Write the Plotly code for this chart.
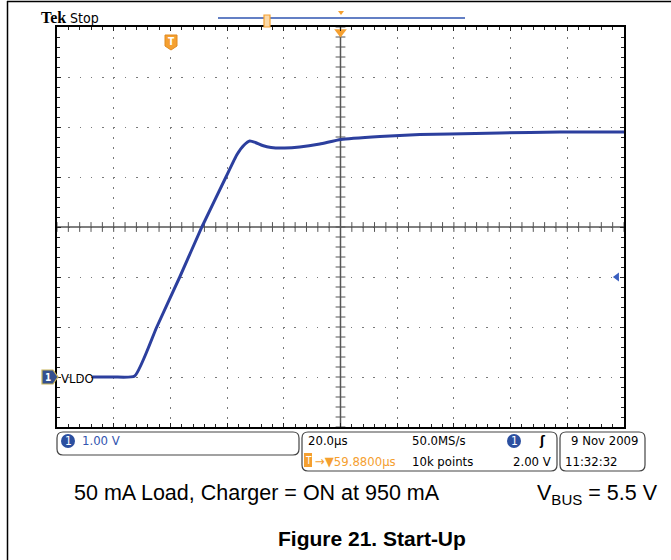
import plotly.graph_objects as go
import numpy as np

# ---------------- data ----------------
time_us = [12.5, 20.0, 27.4, 35.2, 43.3, 51.1, 59.6, 63.5, 66.0, 68.0, 70.0, 72.5,
           75.5, 80.3, 85.6, 92.7, 100.1, 113.9, 128.0, 138.6, 156.2, 177.4, 200.0]
vldo_v = [0.0, 0.0, 0.02, 1.0, 2.0, 3.0, 4.0, 4.45, 4.64, 4.72, 4.69, 4.63,
          4.59, 4.58, 4.60, 4.66, 4.75, 4.81, 4.85, 4.86, 4.88, 4.90, 4.90]
trigger_pos_us = 100.0
trigger_level_v = 2.0
x_range = [0, 200]      # 10 div x 20 us
y_range = [-1, 7]       # 8 div x 1 V
x_major, x_minor = 20, 4
y_major, y_minor = 1, 0.2
ch_label = "VLDO"
caption_left = "50 mA Load, Charger = ON at 950 mA"
caption_right = "V<sub>BUS</sub> = 5.5 V"
figure_title = "<b>Figure 21. Start-Up</b>"

# ---------------- geometry helpers ----------------
L, T, W, H = 57, 27, 567, 400
FIG_W, FIG_H = 671, 560
def PX(x): return (x - L) / W
def PY(y): return 1 - (y - T) / H

ORANGE = "#f5a030"
BLUE = "#2c3f9e"
TXTBLUE = "#3355b0"
SCOPE_FONT = "Liberation Sans Narrow, DejaVu Sans Condensed, Arial Narrow, sans-serif"
ARIAL = "Liberation Sans, Arial, sans-serif"

fig = go.Figure()

# center cross tick marks
xc = np.arange(x_range[0], x_range[1] + 1e-9, x_minor)
yc = np.arange(y_range[0], y_range[1] + 1e-9, y_minor)
yc_mid = (y_range[0] + y_range[1]) / 2
xc_mid = (x_range[0] + x_range[1]) / 2
fig.add_trace(go.Scatter(x=xc, y=[yc_mid] * len(xc), mode="markers", hoverinfo="skip",
                         marker=dict(symbol="line-ns", size=7, line=dict(width=1, color="#555555"))))
fig.add_trace(go.Scatter(x=[xc_mid] * len(yc), y=yc, mode="markers", hoverinfo="skip",
                         marker=dict(symbol="line-ew", size=7, line=dict(width=1, color="#555555"))))

# the waveform
fig.add_trace(go.Scatter(x=time_us, y=vldo_v, mode="lines",
                         line=dict(color=BLUE, width=3, shape="spline", smoothing=0.5), hoverinfo="skip"))

# trigger position marker (top) and trigger level arrow (right)
fig.add_trace(go.Scatter(x=[trigger_pos_us], y=[y_range[1] - 0.1], mode="markers", cliponaxis=False,
                         marker=dict(symbol="triangle-down", size=11, color=ORANGE), hoverinfo="skip"))
fig.add_trace(go.Scatter(x=[x_range[1] - 2.5], y=[trigger_level_v], mode="markers", cliponaxis=False,
                         marker=dict(symbol="triangle-left", size=8, color="#3a5fc0"), hoverinfo="skip"))

shapes = []
# center lines
shapes.append(dict(type="line", xref="x", yref="y", x0=xc_mid, x1=xc_mid, y0=y_range[0], y1=y_range[1],
                   line=dict(color="#555555", width=1.5), layer="between"))
shapes.append(dict(type="line", xref="x", yref="y", x0=x_range[0], x1=x_range[1], y0=yc_mid, y1=yc_mid,
                   line=dict(color="#555555", width=1.5), layer="between"))

def pshape(path_pts, close=True, **kw):
    d = "M" + " L".join(f"{PX(x)},{PY(y)}" for x, y in path_pts) + (" Z" if close else "")
    return dict(type="path", xref="paper", yref="paper", path=d, **kw)

def rrect(x0, y0, x1, y1, r):
    p = lambda x, y: f"{PX(x)},{PY(y)}"
    d = (f"M{p(x0+r,y0)} L{p(x1-r,y0)} Q{p(x1,y0)} {p(x1,y0+r)} L{p(x1,y1-r)} "
         f"Q{p(x1,y1)} {p(x1-r,y1)} L{p(x0+r,y1)} Q{p(x0,y1)} {p(x0,y1-r)} "
         f"L{p(x0,y0+r)} Q{p(x0,y0)} {p(x0+r,y0)} Z")
    return dict(type="path", xref="paper", yref="paper", path=d,
                line=dict(color="#444444", width=1.2), fillcolor="rgba(0,0,0,0)")

# page border (top and left)
shapes.append(dict(type="line", xref="paper", yref="paper", x0=PX(7), x1=PX(671), y0=PY(1.5), y1=PY(1.5),
                   line=dict(color="black", width=1.5)))
shapes.append(dict(type="line", xref="paper", yref="paper", x0=PX(7.5), x1=PX(7.5), y0=PY(1), y1=PY(560),
                   line=dict(color="black", width=1.5)))
# top record bar
shapes.append(dict(type="line", xref="paper", yref="paper", x0=PX(218), x1=PX(465), y0=PY(18), y1=PY(18),
                   line=dict(color="#2f55b0", width=1.3)))
shapes.append(dict(type="rect", xref="paper", yref="paper", x0=PX(264), x1=PX(270), y0=PY(15), y1=PY(27),
                   line=dict(color=ORANGE, width=1.2), fillcolor="#fbd9a8"))
shapes.append(pshape([(338, 11), (344, 11), (341, 15)], fillcolor=ORANGE, line=dict(width=0)))
# T marker
shapes.append(pshape([(165, 35), (177, 35), (177, 46), (171, 50), (165, 46)],
                     fillcolor=ORANGE, line=dict(color="#e08a20", width=1)))
# channel 1 marker
shapes.append(pshape([(42, 370), (53, 370), (58, 377), (53, 384), (42, 384)],
                     fillcolor="#34508f", line=dict(color="#c8b458", width=1.2)))
# info boxes
shapes.append(rrect(57, 432, 299, 455, 6))
shapes.append(rrect(302, 432, 557, 471, 6))
shapes.append(rrect(560, 432, 645, 471, 6))
shapes.append(dict(type="circle", xref="paper", yref="paper", x0=PX(61), x1=PX(75), y0=PY(434), y1=PY(448),
                   fillcolor="#2b4fa0", line=dict(width=0)))
shapes.append(dict(type="circle", xref="paper", yref="paper", x0=PX(507), x1=PX(521), y0=PY(434), y1=PY(448),
                   fillcolor="#2b4fa0", line=dict(width=0)))
shapes.append(dict(type="rect", xref="paper", yref="paper", x0=PX(304), x1=PX(312), y0=PY(453), y1=PY(467),
                   fillcolor=ORANGE, line=dict(width=0)))

ann = []
def A(x, y, text, size=13, color="black", font=SCOPE_FONT, anchor="left"):
    ann.append(dict(xref="paper", yref="paper", x=PX(x), y=PY(y), text=text, showarrow=False,
                    xanchor=anchor, yanchor="middle", font=dict(family=font, size=size, color=color)))

A(39, 17, "<b>Tek</b>", size=16, font="Liberation Serif, DejaVu Serif, serif")
A(68, 18, "Stop", size=14)
A(171, 42, "<b>T</b>", size=10, color="white", anchor="center")
A(48, 377, "<b>1</b>", size=10, color="white", anchor="center")
A(59, 378, ch_label, size=13)
A(68, 441, "1", size=12, color="white", anchor="center")
A(80, 441, "1.00 V", size=13, color=TXTBLUE)
A(306, 441, "20.0µs", size=13)
A(410, 441, "50.0MS/s", size=13)
A(514, 441, "1", size=12, color="white", anchor="center")
A(537, 441, "<b>ʃ</b>", size=13)
A(308, 460, "T", size=10, color="white", anchor="center")
A(313, 461, "→▼59.8800µs", size=13, color=ORANGE)
A(410, 461, "10k points", size=13)
A(553, 461, "2.00 V", size=13, anchor="right")
A(569, 441, "9 Nov 2009", size=13)
A(563, 461, "11:32:32", size=13)
A(72, 493, caption_left, size=21.5, font=ARIAL)
A(535, 494, caption_right, size=21.5, font=ARIAL)
A(372, 538, figure_title, size=21, font=ARIAL, anchor="center")

axis_common = dict(showticklabels=False, ticks="inside", ticklen=4, tickcolor="#222222",
                   showline=True, linecolor="black", linewidth=1.5, mirror="allticks",
                   zeroline=False, showgrid=True, gridcolor="#7a7a7a", gridwidth=1)
fig.update_xaxes(range=x_range, tick0=0, dtick=x_major, griddash="1.5px,8.5px",
                 minor=dict(ticks="inside", ticklen=3, dtick=x_minor, tickcolor="#222222", showgrid=False),
                 **axis_common)
fig.update_yaxes(range=y_range, tick0=y_range[0], dtick=y_major, griddash="1.5px,9.8px",
                 minor=dict(ticks="inside", ticklen=3, dtick=y_minor, tickcolor="#222222", showgrid=False),
                 **axis_common)

fig.update_layout(width=FIG_W, height=FIG_H, autosize=False,
                  margin=dict(l=L, r=FIG_W - L - W, t=T, b=FIG_H - T - H, pad=0),
                  paper_bgcolor="white", plot_bgcolor="white", showlegend=False,
                  shapes=shapes, annotations=ann)

fig.write_html("out.html", config={"displayModeBar": False},
               post_script="document.body.style.margin='0';")
